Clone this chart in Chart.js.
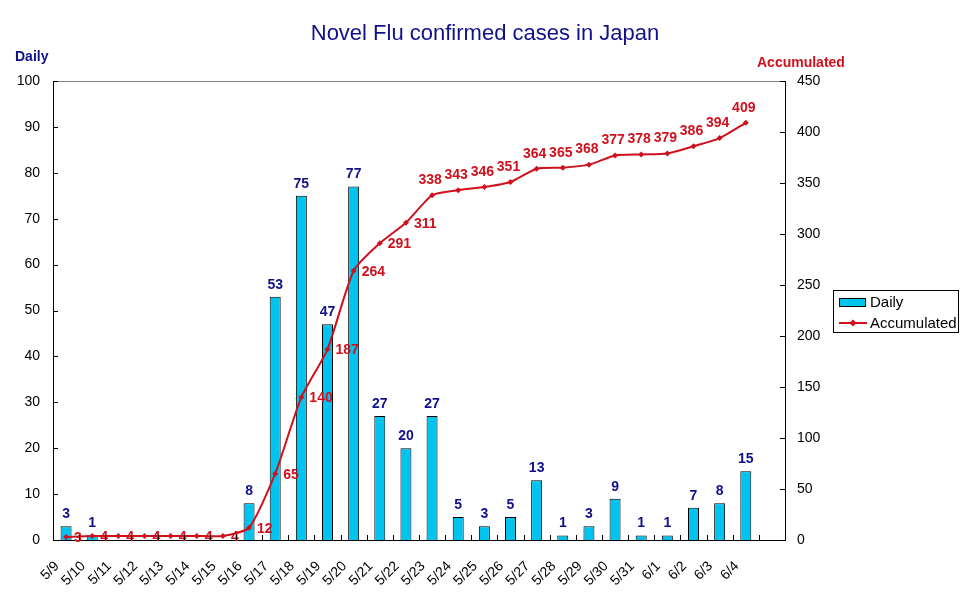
<!DOCTYPE html>
<html>
<head>
<meta charset="utf-8">
<script src="https://cdn.jsdelivr.net/npm/chart.js@4/dist/chart.umd.min.js"></script>
<style>
	html, body { margin: 0; padding: 0; background: #fff; }
	#wrap { position: relative; width: 970px; height: 604px; }
</style>
</head>
<body>
<div id="wrap"><canvas id="flu-chart" width="970" height="604"></canvas></div>
<script>
var categories = ['5/9', '5/10', '5/11', '5/12', '5/13', '5/14', '5/15', '5/16', '5/17', '5/18',
	'5/19', '5/20', '5/21', '5/22', '5/23', '5/24', '5/25', '5/26', '5/27', '5/28', '5/29', '5/30',
	'5/31', '6/1', '6/2', '6/3', '6/4', ''];
var dailyCases = [3, 1, 0, 0, 0, 0, 0, 8, 53, 75, 47, 77, 27, 20, 27, 5, 3, 5, 13, 1, 3, 9, 1, 1, 7, 8, 15, null];
var accumulatedCases = [3, 4, 4, 4, 4, 4, 4, 12, 65, 140, 187, 264, 291, 311, 338, 343, 346, 351, 364, 365,
	368, 377, 378, 379, 386, 394, 409, null];
var dailyTicks = {min: 0, max: 100, step: 10};
var accumulatedTicks = {min: 0, max: 450, step: 50};

var titleText = 'Novel Flu confirmed cases in Japan';
var navy = '#10108c';
var red = '#d0101c';
var cyan = '#00c4f0';
var fontFamily = '"Liberation Sans", Arial, sans-serif';

//Labels of the accumulated line sit to the right until 5/23, then above
var firstLabelAbove = categories.indexOf('5/23');

var decorations = {
	id: 'decorations',
	afterDraw: function(chart) {
		var ctx = chart.ctx,
			area = chart.chartArea,
			x = chart.scales.x,
			yLeft = chart.scales.yDaily,
			yRight = chart.scales.yAccumulated;

		ctx.save();

		//grey top border of the plot area
		ctx.strokeStyle = '#808080';
		ctx.lineWidth = 1;
		ctx.beginPath();
		ctx.moveTo(area.left, area.top + 0.5);
		ctx.lineTo(area.right, area.top + 0.5);
		ctx.stroke();

		//inward tick marks
		ctx.strokeStyle = '#000';
		ctx.beginPath();
		yLeft.ticks.forEach(function(t) {
			var py = Math.round(yLeft.getPixelForValue(t.value)) + 0.5;
			ctx.moveTo(area.left, py);
			ctx.lineTo(area.left + 5, py);
		});
		yRight.ticks.forEach(function(t) {
			var py = Math.round(yRight.getPixelForValue(t.value)) + 0.5;
			ctx.moveTo(area.right - 5, py);
			ctx.lineTo(area.right, py);
		});
		var step = x.getPixelForValue(1) - x.getPixelForValue(0);
		for (let i = 1; i < categories.length; i++) {
			let px = Math.round(x.getPixelForValue(i) - step / 2) + 0.5;
			ctx.moveTo(px, area.bottom);
			ctx.lineTo(px, area.bottom - 5);
		}
		ctx.stroke();

		//titles
		ctx.textBaseline = 'middle';
		ctx.textAlign = 'center';
		ctx.fillStyle = navy;
		ctx.font = '22px ' + fontFamily;
		ctx.fillText(titleText, 485, 34);

		ctx.font = 'bold 14px ' + fontFamily;
		ctx.textAlign = 'left';
		ctx.fillText('Daily', 15, 57);
		ctx.fillStyle = red;
		ctx.fillText('Accumulated', 757, 63);

		//legend
		ctx.strokeStyle = '#000';
		ctx.strokeRect(833.5, 290.5, 125, 42);
		ctx.fillStyle = cyan;
		ctx.fillRect(839.5, 298.5, 26, 8);
		ctx.strokeRect(839.5, 298.5, 26, 8);
		ctx.strokeStyle = red;
		ctx.lineWidth = 2;
		ctx.beginPath();
		ctx.moveTo(839, 323);
		ctx.lineTo(867, 323);
		ctx.stroke();
		ctx.fillStyle = red;
		ctx.beginPath();
		ctx.moveTo(853, 319.5);
		ctx.lineTo(856.5, 323);
		ctx.lineTo(853, 326.5);
		ctx.lineTo(849.5, 323);
		ctx.closePath();
		ctx.fill();
		ctx.fillStyle = '#000';
		ctx.font = '15px ' + fontFamily;
		ctx.fillText('Daily', 870, 303);
		ctx.fillText('Accumulated', 870, 324);

		ctx.restore();
	},
	afterDatasetsDraw: function(chart) {
		var ctx = chart.ctx,
			lineMeta = chart.getDatasetMeta(0),
			barMeta = chart.getDatasetMeta(1);

		ctx.save();
		ctx.font = 'bold 14px ' + fontFamily;

		//daily values above the bars
		ctx.fillStyle = navy;
		ctx.textAlign = 'center';
		ctx.textBaseline = 'bottom';
		barMeta.data.forEach(function(bar, i) {
			if (dailyCases[i]) {
				ctx.fillText(String(dailyCases[i]), bar.x, bar.y - 5);
			}
		});

		//accumulated values next to the points
		ctx.fillStyle = red;
		lineMeta.data.forEach(function(point, i) {
			if (accumulatedCases[i] === null) {
				return;
			}
			if (i < firstLabelAbove) {
				ctx.textAlign = 'left';
				ctx.textBaseline = 'middle';
				ctx.fillText(String(accumulatedCases[i]), point.x + 8, point.y + 1);
			} else {
				ctx.textAlign = 'center';
				ctx.textBaseline = 'bottom';
				ctx.fillText(String(accumulatedCases[i]), point.x - 2, point.y - 8);
			}
		});

		ctx.restore();
	}
};

new Chart(document.getElementById('flu-chart'), {
	type: 'bar',
	data: {
		labels: categories,
		datasets: [
			{
				type: 'line',
				label: 'Accumulated',
				data: accumulatedCases,
				yAxisID: 'yAccumulated',
				borderColor: red,
				backgroundColor: red,
				borderWidth: 2,
				tension: 0.2,
				pointStyle: 'rectRot',
				pointRadius: 3,
				pointBorderWidth: 0,
				pointBackgroundColor: red,
				order: 0
			},
			{
				type: 'bar',
				label: 'Daily',
				data: dailyCases,
				yAxisID: 'yDaily',
				backgroundColor: cyan,
				borderColor: '#000',
				borderWidth: 1,
				barPercentage: 0.42,
				categoryPercentage: 1,
				order: 1
			}
		]
	},
	options: {
		responsive: false,
		animation: false,
		layout: {
			padding: {top: 81, left: 0, right: 0, bottom: 0}
		},
		plugins: {
			legend: {display: false},
			title: {display: false},
			tooltip: {enabled: false}
		},
		scales: {
			x: {
				offset: true,
				grid: {display: false, drawTicks: false},
				border: {display: true, color: '#000', width: 1},
				ticks: {
					autoSkip: false,
					minRotation: 45,
					maxRotation: 45,
					padding: 18,
					labelOffset: -9,
					color: '#000',
					font: {family: fontFamily, size: 14}
				},
				afterFit: function(scale) {
					scale.height = 64;
				}
			},
			yDaily: {
				position: 'left',
				min: dailyTicks.min,
				max: dailyTicks.max,
				grid: {display: false, drawTicks: false},
				border: {display: true, color: '#000', width: 1},
				ticks: {
					stepSize: dailyTicks.step,
					padding: 13,
					color: '#000',
					font: {family: fontFamily, size: 14}
				},
				afterFit: function(scale) {
					scale.width = 53;
				}
			},
			yAccumulated: {
				position: 'right',
				min: accumulatedTicks.min,
				max: accumulatedTicks.max,
				grid: {display: false, drawTicks: false},
				border: {display: true, color: '#000', width: 1},
				ticks: {
					stepSize: accumulatedTicks.step,
					padding: 12,
					color: '#000',
					font: {family: fontFamily, size: 14}
				},
				afterFit: function(scale) {
					scale.width = 185;
				}
			}
		}
	},
	plugins: [decorations]
});
</script>
</body>
</html>
